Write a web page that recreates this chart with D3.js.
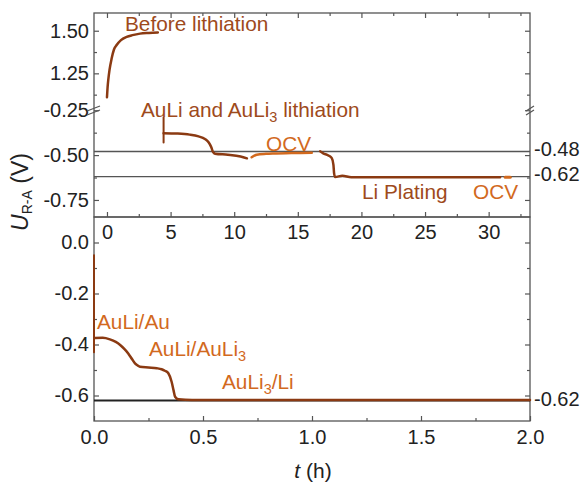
<!DOCTYPE html>
<html>
<head>
<meta charset="UTF-8" />
<style>
  body { margin: 0; background: #fff; }
  svg { display: block; font-family: "Liberation Sans", Arial, sans-serif; }
  .frame { fill: none; stroke: #555; stroke-width: 1.3px; }
  .axis text { font-size: 20px; fill: #222; }
  .axis line { stroke: #555; stroke-width: 1.2px; }
  .axis path { display: none; }
</style>
<script src="https://d3js.org/d3.v7.min.js"></script>
</head>
<body>
<svg id="chart" width="584" height="482"></svg>
<script>
// ---- data ----
// top panel, t in h (long run)
const beforeT = [0, 0.05, 0.1, 0.2, 0.37, 0.55, 0.76, 1.1, 1.55, 2.0, 2.6, 3.3, 4.0];
const beforeU = [1.11, 1.17, 1.21, 1.27, 1.338, 1.39, 1.416, 1.445, 1.464, 1.474, 1.483, 1.487, 1.49];

const spikeT = [4.45, 4.45];
const spikeU = [-0.29, -0.43];

const lithT = [4.45, 5.5, 6.5, 7.2, 7.7, 8.0, 8.2, 8.33, 8.5, 9.5, 10.5, 11.0];
const lithU = [-0.378, -0.38, -0.386, -0.396, -0.41, -0.43, -0.456, -0.482, -0.492, -0.498, -0.508, -0.518];

const ocv1T = [11.37, 11.77, 12.5, 13.1, 14.5, 16.1];
const ocv1U = [-0.512, -0.498, -0.493, -0.491, -0.489, -0.487];

const plateT = [16.75, 17.0, 17.4, 17.67, 17.8, 17.85, 17.93, 18.5, 19.2, 22, 26, 30.9];
const plateU = [-0.479, -0.49, -0.502, -0.517, -0.554, -0.6, -0.622, -0.615, -0.623, -0.623, -0.623, -0.623];

const ocv2T = [31.3, 31.7];
const ocv2U = [-0.623, -0.623];

const refValues = [-0.48, -0.62];

// bottom panel (first 2 h)
const zeroSpikeT = [0, 0];
const zeroSpikeU = [-0.05, -0.43];
const firstT = [0.003, 0.04, 0.073, 0.1, 0.12, 0.14, 0.157, 0.175, 0.188, 0.2, 0.211, 0.25, 0.288, 0.31, 0.325, 0.341, 0.356, 0.365, 0.372, 0.387, 0.45, 1.0, 1.5, 2.0];
const firstU = [-0.375, -0.374, -0.38, -0.39, -0.402, -0.418, -0.435, -0.458, -0.474, -0.482, -0.487, -0.49, -0.493, -0.497, -0.503, -0.513, -0.546, -0.58, -0.605, -0.615, -0.618, -0.618, -0.618, -0.618];
const bottomRef = -0.62;

// ticks
const topXTicks = [0, 5, 10, 15, 20, 25, 30];
const topXMinor = [2.5, 7.5, 12.5, 17.5, 22.5, 27.5, 32.5];
const upperTicks = [1.25, 1.50];
const upperMinor = [1.125, 1.375];
const lowerTicks = [-0.25, -0.50, -0.75];
const lowerMinor = [-0.375, -0.625];
const botXTicks = [0, 0.5, 1.0, 1.5, 2.0];
const botXMinor = [0.25, 0.75, 1.25, 1.75];
const botYTicks = [-0.6, -0.4, -0.2, 0.0];
const botYMinor = [-0.5, -0.3, -0.1];

const BROWN = "#8b3a12", TXTBROWN = "#9e4a1c", ORANGE = "#d2691e";

const svg = d3.select("#chart");
const L = 94, R = 530, T1 = 13, B1 = 217, B2 = 421;

// scales
const xTop = d3.scaleLinear().domain([-1.02, 33.25]).range([L, R]);
const yUp = d3.scaleLinear().domain([1.035, 1.604]).range([110, T1]);
const yLo = d3.scaleLinear().domain([-0.845, -0.25]).range([B1, 110.23]);
const xBot = d3.scaleLinear().domain([0, 2]).range([L, R]);
const yBot = d3.scaleLinear().domain([-0.7, 0.1]).range([B2, T1 + 204]);

const f2 = v => v.toFixed(2), f1 = v => v.toFixed(1);

function axis(gen, tr) {
  return svg.append("g").attr("class", "axis").attr("transform", tr).call(gen);
}

// ---- top panel axes ----
axis(d3.axisLeft(yUp).tickValues(upperTicks).tickSize(-5).tickPadding(5).tickFormat(f2), `translate(${L},0)`);
axis(d3.axisLeft(yUp).tickValues(upperMinor).tickSize(-3).tickFormat(""), `translate(${L},0)`);
axis(d3.axisLeft(yLo).tickValues(lowerTicks).tickSize(-5).tickPadding(5).tickFormat(f2), `translate(${L},0)`);
axis(d3.axisLeft(yLo).tickValues(lowerMinor).tickSize(-3).tickFormat(""), `translate(${L},0)`);
axis(d3.axisRight(yUp).tickValues(upperTicks).tickSize(-5).tickFormat(""), `translate(${R},0)`);
axis(d3.axisRight(yUp).tickValues(upperMinor).tickSize(-3).tickFormat(""), `translate(${R},0)`);
axis(d3.axisRight(yLo).tickValues(lowerTicks).tickSize(-5).tickFormat(""), `translate(${R},0)`);
axis(d3.axisRight(yLo).tickValues(lowerMinor).tickSize(-3).tickFormat(""), `translate(${R},0)`);
axis(d3.axisBottom(xTop).tickValues(topXTicks).tickSize(-5).tickPadding(8).tickFormat(d3.format("d")), `translate(0,${B1})`);
axis(d3.axisBottom(xTop).tickValues(topXMinor).tickSize(-3).tickFormat(""), `translate(0,${B1})`);
axis(d3.axisTop(xTop).tickValues(topXTicks).tickSize(-5).tickFormat(""), `translate(0,${T1})`);
axis(d3.axisTop(xTop).tickValues(topXMinor).tickSize(-3).tickFormat(""), `translate(0,${T1})`);

// ---- bottom panel axes ----
axis(d3.axisLeft(yBot).tickValues(botYTicks).tickSize(-5).tickPadding(5).tickFormat(f1), `translate(${L},0)`);
axis(d3.axisLeft(yBot).tickValues(botYMinor).tickSize(-3).tickFormat(""), `translate(${L},0)`);
axis(d3.axisRight(yBot).tickValues(botYTicks).tickSize(-5).tickFormat(""), `translate(${R},0)`);
axis(d3.axisRight(yBot).tickValues(botYMinor).tickSize(-3).tickFormat(""), `translate(${R},0)`);
axis(d3.axisBottom(xBot).tickValues(botXTicks).tickSize(-5).tickPadding(9).tickFormat(f1), `translate(0,${B2})`);
axis(d3.axisBottom(xBot).tickValues(botXMinor).tickSize(-3).tickFormat(""), `translate(0,${B2})`);

// frames
svg.append("rect").attr("class", "frame").attr("x", L).attr("y", T1).attr("width", R - L).attr("height", B1 - T1);
svg.append("rect").attr("class", "frame").attr("x", L).attr("y", B1).attr("width", R - L).attr("height", B2 - B1);

// axis break marks
[L - 7, R - 4].forEach((bx, i) => {
  const w = i === 0 ? 13 : 8;
  [-2, 2].forEach(off => {
    svg.append("line")
      .attr("x1", bx).attr("y1", 111 + off + 2)
      .attr("x2", bx + w).attr("y2", 111 + off - 3)
      .attr("stroke", "#555").attr("stroke-width", 1.2);
  });
});

// reference lines
refValues.forEach(v => {
  svg.append("line").attr("x1", L).attr("x2", R)
    .attr("y1", yLo(v)).attr("y2", yLo(v))
    .attr("stroke", "#555").attr("stroke-width", 1.3);
  svg.append("text").attr("x", R + 4).attr("y", yLo(v) - 1)
    .attr("dominant-baseline", "middle")
    .attr("font-size", 20).attr("fill", "#222").text(v.toFixed(2));
});
svg.append("line").attr("x1", L).attr("x2", R)
  .attr("y1", yBot(bottomRef)).attr("y2", yBot(bottomRef))
  .attr("stroke", "#222").attr("stroke-width", 2);
svg.append("text").attr("x", R + 4).attr("y", yBot(bottomRef))
  .attr("dominant-baseline", "middle")
  .attr("font-size", 20).attr("fill", "#222").text(bottomRef.toFixed(2));

// curves
function curve(ts, us, xs, ys, color, smooth, w) {
  const pts = ts.map((t, i) => [t, us[i]]);
  const line = d3.line().x(d => xs(d[0])).y(d => ys(d[1]))
    .curve(smooth ? d3.curveMonotoneX : d3.curveLinear);
  svg.append("path").datum(pts).attr("d", line)
    .attr("fill", "none").attr("stroke", color)
    .attr("stroke-width", w || 2.5).attr("stroke-linecap", "round");
}
curve(beforeT, beforeU, xTop, yUp, BROWN, true);
curve(spikeT, spikeU, xTop, yLo, BROWN, false, 2);
curve(lithT, lithU, xTop, yLo, BROWN, true);
curve(ocv1T, ocv1U, xTop, yLo, ORANGE, true);
curve(plateT, plateU, xTop, yLo, BROWN, true);
curve(ocv2T, ocv2U, xTop, yLo, ORANGE, false, 3);
curve(zeroSpikeT, zeroSpikeU, xBot, yBot, BROWN, false, 2);
curve(firstT, firstU, xBot, yBot, BROWN, true);

// annotations
function label(x, y, parts, color) {
  const t = svg.append("text").attr("x", x).attr("y", y)
    .attr("font-size", 20.8).attr("fill", color);
  parts.forEach(p => {
    const s = t.append("tspan").text(p[0]);
    if (p[1]) s.attr("font-size", 14.5).attr("dy", 5);
    else if (p[2]) s.attr("dy", -5);
  });
}
label(125, 31, [["Before lithiation"]], TXTBROWN);
label(141, 117, [["AuLi and AuLi"], ["3", true], [" lithiation", false, true]], TXTBROWN);
label(266, 151, [["OCV"]], ORANGE);
label(362, 199, [["Li Plating"]], TXTBROWN);
label(473, 199, [["OCV"]], ORANGE);
label(97, 329, [["AuLi/Au"]], ORANGE);
label(149, 356, [["AuLi/AuLi"], ["3", true]], ORANGE);
label(222, 389, [["AuLi"], ["3", true], ["/Li", false, true]], ORANGE);

// axis titles
const xt = svg.append("text").attr("x", 313).attr("y", 478)
  .attr("text-anchor", "middle").attr("font-size", 21).attr("fill", "#222");
xt.append("tspan").attr("font-style", "italic").text("t");
xt.append("tspan").text(" (h)");

const yt = svg.append("text").attr("transform", "translate(28,192) rotate(-90)")
  .attr("text-anchor", "middle").attr("font-size", 23).attr("fill", "#222");
yt.append("tspan").attr("font-style", "italic").text("U");
yt.append("tspan").attr("font-size", 14).attr("dy", 4).text("R-A");
yt.append("tspan").attr("dy", -4).text(" (V)");
</script>
</body>
</html>
